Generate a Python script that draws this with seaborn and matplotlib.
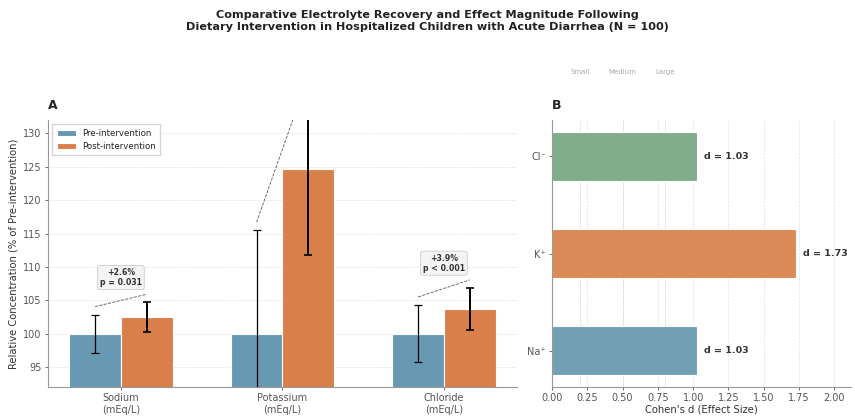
import matplotlib
matplotlib.use("Agg")
import matplotlib.pyplot as plt
import seaborn as sns
import pandas as pd
import numpy as np

# panel A data
electrolytes = ["Sodium\n(mEq/L)", "Potassium\n(mEq/L)", "Chloride\n(mEq/L)"]
pre_values = [100.0, 100.0, 100.0]
post_values = [102.5, 124.6, 103.7]
pre_err = [2.85, 15.5, 4.3]
post_err = [2.2, 12.8, 3.15]
change_labels = ["+2.6%\np = 0.031", "+24.6%\np < 0.001", "+3.9%\np < 0.001"]

# panel B data
ions = ["Cl\u207b", "K\u207a", "Na\u207a"]
cohens_d = [1.03, 1.73, 1.03]
thresholds = [0.2, 0.5, 0.8]
threshold_names = ["Small", "Medium", "Large"]

pre_col = "#6899b2"
post_col = "#d9804a"
ion_cols = ["#80ad8a", "#da8a56", "#71a0b5"]

sns.set_style("ticks")
plt.rcParams["font.family"] = ["DejaVu Sans"]

fig = plt.figure(figsize=(8.55, 4.17), dpi=100)
axA = fig.add_axes([0.0561, 0.072, 0.5485, 0.640])
axB = fig.add_axes([0.6456, 0.072, 0.350, 0.640])

# ---- panel A
df = pd.DataFrame({
    "electrolyte": electrolytes * 2,
    "value": pre_values + post_values,
    "phase": ["Pre-intervention"] * 3 + ["Post-intervention"] * 3,
})
sns.barplot(data=df, x="electrolyte", y="value", hue="phase",
            palette=[pre_col, post_col], saturation=1, width=0.64, gap=0,
            edgecolor="white", linewidth=0.8, errorbar=None, ax=axA)
xs = np.arange(len(electrolytes))
axA.errorbar(xs - 0.16, pre_values, yerr=pre_err, fmt="none", ecolor="black",
             elinewidth=0.9, capsize=3, capthick=0.9, zorder=5)
axA.errorbar(xs + 0.16, post_values, yerr=post_err, fmt="none", ecolor="black",
             elinewidth=1.4, capsize=3, capthick=1.2, zorder=5)

for i in range(len(electrolytes)):
    y1 = pre_values[i] + pre_err[i] + 1.2
    y2 = post_values[i] + post_err[i] + 1.2
    axA.plot([i - 0.16, i + 0.16], [y1, y2], color="#555555", lw=0.6,
             ls="--", zorder=4)
    axA.text(i, max(y1, y2) + 2.5, change_labels[i], ha="center", va="center",
             fontsize=5.6, fontweight="bold", color="#333333", clip_on=True,
             bbox=dict(boxstyle="round,pad=0.3", fc="#f4f4f4", ec="#cccccc", lw=0.6))

axA.set_ylim(92, 132)
axA.set_xlim(-0.452, 2.452)
axA.set_yticks([95, 100, 105, 110, 115, 120, 125, 130])
axA.set_xlabel("")
axA.set_ylabel("Relative Concentration (% of Pre-intervention)", fontsize=7.2,
               color="#333333", labelpad=3)
axA.yaxis.grid(True, ls="--", lw=0.5, color="#e3e3e3")
axA.set_axisbelow(True)
axA.tick_params(labelsize=7, colors="#555555", length=2.5, width=0.6, pad=2)
for s in ["left", "bottom"]:
    axA.spines[s].set_color("#999999")
    axA.spines[s].set_linewidth(0.8)
sns.despine(ax=axA)
axA.legend(loc="upper left", fontsize=6.2, frameon=True, edgecolor="#cccccc",
           fancybox=False, handlelength=2.2, borderpad=0.5)
axA.text(0, 1.04, "A", transform=axA.transAxes, fontsize=9, fontweight="bold")

# ---- panel B
sns.barplot(x=cohens_d, y=ions, hue=ions, palette=ion_cols, saturation=1, orient="h",
            width=0.5, edgecolor="white", linewidth=0.8, legend=False, ax=axB)
for i, d in enumerate(cohens_d):
    axB.text(d + 0.05, i, f"d = {d:.2f}", va="center", ha="left",
             fontsize=6.8, fontweight="bold", color="#333333")
for t, name in zip(thresholds, threshold_names):
    axB.axvline(t, color="#bbbbbb", lw=0.6, ls=":", zorder=0)
    axB.text(t, 1.18, name, transform=axB.get_xaxis_transform(), ha="center",
             va="center", fontsize=5, color="#aaaaaa")
axB.set_xlim(0, 2.12)
axB.set_ylim(2.375, -0.375)
axB.set_xticks(np.arange(0, 2.01, 0.25))
axB.set_xlabel("Cohen's d (Effect Size)", fontsize=7.2, color="#333333", labelpad=1)
axB.set_ylabel("")
axB.xaxis.grid(True, ls="--", lw=0.5, color="#e0e0e0")
axB.set_axisbelow(True)
axB.tick_params(labelsize=7, colors="#555555", length=2.5, width=0.6, pad=2)
for s in ["left", "bottom"]:
    axB.spines[s].set_color("#999999")
    axB.spines[s].set_linewidth(0.8)
sns.despine(ax=axB)
axB.text(0, 1.04, "B", transform=axB.transAxes, fontsize=9, fontweight="bold")

fig.suptitle("Comparative Electrolyte Recovery and Effect Magnitude Following\n"
             "Dietary Intervention in Hospitalized Children with Acute Diarrhea (N = 100)",
             fontsize=8.1, fontweight="bold", y=0.975, color="#222222")

fig.savefig("out.png", dpi=100)
